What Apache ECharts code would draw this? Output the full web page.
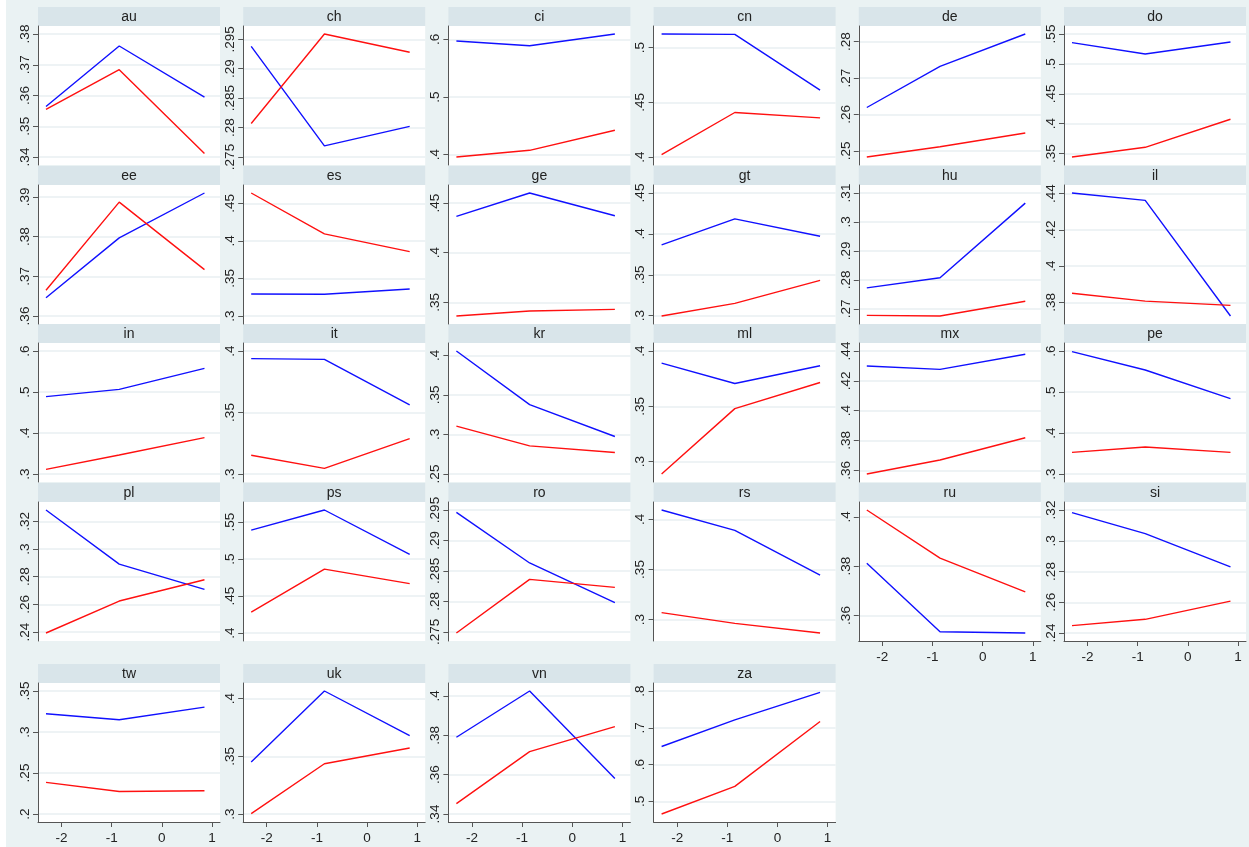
<!DOCTYPE html>
<html>
<head>
<meta charset="utf-8">
<script src="https://cdn.jsdelivr.net/npm/echarts@6/dist/echarts.min.js"></script>
<style>
html, body { margin: 0; padding: 0; background: #fff; }
#chart { width: 1249px; height: 847px; }
</style>
</head>
<body>
<div id="chart"></div>
<script>
// panel data
var countries = ['au','ch','ci','cn','de','do','ee','es','ge','gt','hu','il',
                 'in','it','kr','ml','mx','pe','pl','ps','ro','rs','ru','si',
                 'tw','uk','vn','za'];
var xPos = [-2.31, -0.85, 0.85];
var xTicks = [-2, -1, 0, 1];

var blueVals = [
  [.3564, .3761, .3595], [.2938, .2769, .2802], [.5971, .589, .6093],
  [.5125, .5122, .4612], [.2619, .2732, .2821], [.5355, .5165, .5366],
  [.3646, .3797, .391],  [.3293, .3289, .336],  [.4365, .4601, .4372],
  [.3865, .4184, .3971], [.2772, .2807, .3065], [.4404, .4363, .3724],
  [.4886, .5065, .5577], [.3938, .3932, .3562], [.4055, .3377, .2974],
  [.3891, .3706, .3867], [.4299, .4277, .4378], [.5984, .5537, .4837],
  [.3282, .2891, .2708], [.5391, .5663, .5063], [.2946, .2863, .2798],
  [.4093, .389, .3443],  [.3812, .3534, .3529], [.3183, .3046, .283],
  [.3222, .3149, .3304], [.3451, .4067, .368],  [.379, .4025, .358],
  [.6491, .7214, .7964]
];
var redVals = [
  [.3555, .3684, .3411], [.2807, .2959, .2928], [.3959, .4075, .4423],
  [.4021, .4407, .4358], [.2483, .2511, .2549], [.3444, .3606, .4075],
  [.3665, .3887, .3717], [.4638, .4093, .3858], [.3362, .3412, .3429],
  [.2996, .3151, .3431], [.2677, .2675, .2726], [.385, .3806, .3783],
  [.3114, .3463, .3886], [.3152, .3046, .3287], [.3106, .2856, .2771],
  [.2888, .3479, .3715], [.3575, .3669, .3818], [.3528, .3659, .3528],
  [.2393, .2624, .2778], [.4281, .4864, .4668], [.2748, .2836, .2823],
  [.307, .2963, .2867],  [.4028, .3833, .3696], [.2448, .2489, .2607],
  [.2386, .2275, .2283], [.3003, .3436, .3573], [.3453, .3717, .3844],
  [.4657, .5407, .7172]
];
var yTicks = [
  [.34, .35, .36, .37, .38], [.275, .28, .285, .29, .295], [.4, .5, .6],
  [.4, .45, .5], [.25, .26, .27, .28], [.35, .4, .45, .5, .55],
  [.36, .37, .38, .39], [.3, .35, .4, .45], [.35, .4, .45],
  [.3, .35, .4, .45], [.27, .28, .29, .3, .31], [.38, .4, .42, .44],
  [.3, .4, .5, .6], [.3, .35, .4], [.25, .3, .35, .4],
  [.3, .35, .4], [.36, .38, .4, .42, .44], [.3, .4, .5, .6],
  [.24, .26, .28, .3, .32], [.4, .45, .5, .55], [.275, .28, .285, .29, .295],
  [.3, .35, .4], [.36, .38, .4], [.24, .26, .28, .3, .32],
  [.2, .25, .3, .35], [.3, .35, .4], [.34, .36, .38, .4],
  [.5, .6, .7, .8]
];

// layout
var headerTop = [7, 166, 324, 483, 664];
var headerH = 19, plotW = 182, plotH = 139, inner = 8;
var font = 'Liberation Sans';
var textColor = '#222';
var axisColor = '#555';

function fmt(v) {
  var s = String(+(+v).toFixed(4));
  return s.replace(/^0\./, '.').replace(/^-0\./, '-.');
}

var myChart = echarts.init(document.getElementById('chart'));

var grids = [], xAxes = [], yAxes = [], series = [];
var graphics = [
  { type: 'rect', shape: { x: 0, y: 0, width: 6, height: 847 }, style: { fill: '#fff' }, silent: true }
];

countries.forEach(function (name, i) {
  var row = Math.floor(i / 6), col = i % 6;
  var left = 38 + col * 205.2;
  var top = headerTop[row] + headerH;
  var bottomPanel = row === 4 || i === 22 || i === 23;

  grids.push({
    left: left, top: top, width: plotW, height: plotH,
    show: true, backgroundColor: '#fff', borderWidth: 0
  });

  // Stata style range: hull of data and ticks, plus a fixed inner margin
  var yv = blueVals[i].concat(redVals[i], yTicks[i]);
  var ylo = Math.min.apply(null, yv), yhi = Math.max.apply(null, yv);
  var ypad = (yhi - ylo) * inner / (plotH - 2 * inner);
  var xv = xPos.concat(xTicks);
  var xlo = Math.min.apply(null, xv), xhi = Math.max.apply(null, xv);
  var xpad = (xhi - xlo) * inner / (plotW - 2 * inner);

  xAxes.push({
    type: 'value', gridIndex: i, min: xlo - xpad, max: xhi + xpad,
    axisLine: { show: bottomPanel, onZero: false, lineStyle: { color: axisColor, width: 1 } },
    axisTick: { show: bottomPanel, length: 5, customValues: xTicks, lineStyle: { color: axisColor } },
    axisLabel: { show: bottomPanel, customValues: xTicks, margin: 9, fontSize: 13.5,
                 fontFamily: font, color: textColor, formatter: fmt },
    splitLine: { show: false }
  });

  yAxes.push({
    type: 'value', gridIndex: i, min: ylo - ypad, max: yhi + ypad,
    axisLine: { show: true, onZero: false, lineStyle: { color: axisColor, width: 1 } },
    axisTick: { show: true, length: 5, customValues: yTicks[i], lineStyle: { color: axisColor } },
    axisLabel: { customValues: yTicks[i], rotate: 90, margin: 6, fontSize: 13.5,
                 fontFamily: font, color: textColor, formatter: fmt },
    splitLine: { show: true, lineStyle: { color: '#E8EFF2', width: 1.5 } }
  });

  series.push({
    type: 'line', name: name + ' blue', xAxisIndex: i, yAxisIndex: i,
    data: xPos.map(function (x, k) { return [x, blueVals[i][k]]; }),
    symbol: 'none', silent: true,
    lineStyle: { color: '#1010ff', width: 1.4 }
  });
  series.push({
    type: 'line', name: name + ' red', xAxisIndex: i, yAxisIndex: i,
    data: xPos.map(function (x, k) { return [x, redVals[i][k]]; }),
    symbol: 'none', silent: true,
    lineStyle: { color: '#ff1010', width: 1.4 }
  });

  // panel header
  graphics.push({
    type: 'rect', silent: true,
    shape: { x: left, y: headerTop[row], width: plotW, height: headerH },
    style: { fill: '#D9E5EA' }
  });
  graphics.push({
    type: 'text', silent: true,
    x: left + plotW / 2, y: headerTop[row] + headerH / 2 + 0.5,
    style: { text: name, fontSize: 14, fontFamily: font, fill: textColor,
             align: 'center', verticalAlign: 'middle' }
  });
});

var option = {
  backgroundColor: '#EAF2F3',
  animation: false,
  grid: grids,
  xAxis: xAxes,
  yAxis: yAxes,
  series: series,
  graphic: graphics
};

myChart.setOption(option);
</script>
</body>
</html>
